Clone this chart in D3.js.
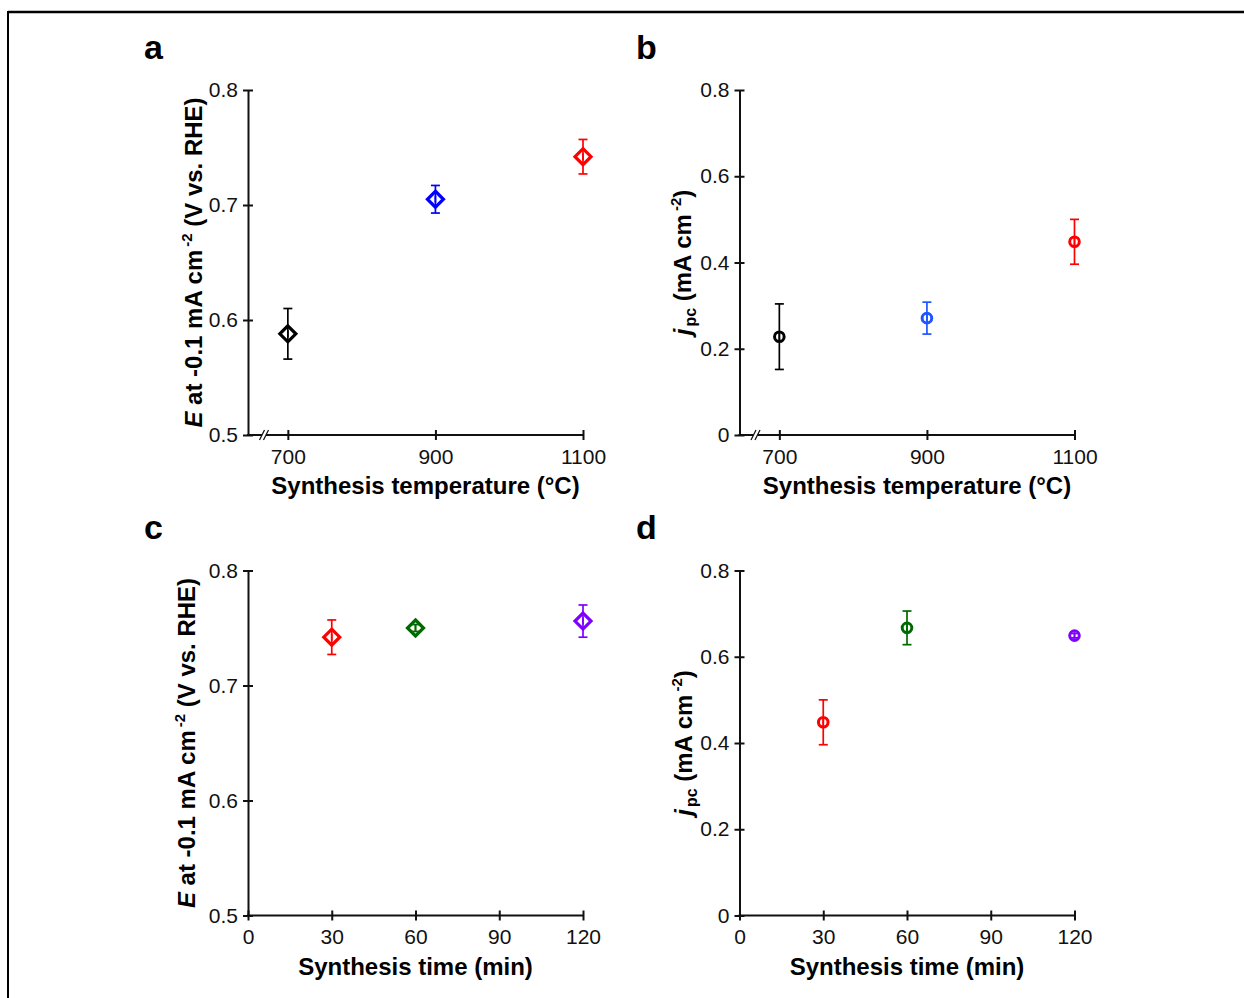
<!DOCTYPE html>
<html>
<head>
<meta charset="utf-8">
<script src="https://d3js.org/d3.v7.min.js"></script>
<style>
    body { margin: 0; background: #fff; }
    .axis path, .axis line { stroke: #111; stroke-width: 2px; }
    .axis text { font-family: "Liberation Sans", Arial, sans-serif; font-size: 21px; fill: #111; }
    .title { font-family: "Liberation Sans", Arial, sans-serif; font-size: 24px; font-weight: bold; fill: #000; }
    .letter { font-family: "Liberation Sans", Arial, sans-serif; font-size: 34px; font-weight: bold; fill: #000; }
</style>
</head>
<body>
<svg id="fig" width="1244" height="998"></svg>
<script>
// data
const tempCategories = [700, 900, 1100];
const timeCategories = [30, 60, 120];

const eTemp = [0.588, 0.705, 0.742];
const eTempErr = [0.022, 0.012, 0.015];
const jTemp = [0.228, 0.271, 0.448];
const jTempErr = [0.076, 0.037, 0.052];

const eTime = [0.742, 0.750, 0.756];
const eTimeErr = [0.015, 0.003, 0.014];
const jTime = [0.448, 0.667, 0.649];
const jTimeErr = [0.052, 0.039, 0.005];

const tempTicks = [700, 900, 1100];
const timeTicks = [0, 30, 60, 90, 120];
const eTicks = [0.5, 0.6, 0.7, 0.8];
const jTicks = [0, 0.2, 0.4, 0.6, 0.8];

const colorsA = ["#000000", "#0000ff", "#ff0000"];
const colorsB = ["#000000", "#1f55ff", "#ff0000"];
const colorsTime = ["#ff0000", "#006a00", "#7f00ff"];

const svg = d3.select("#fig");

// frame
svg.append("line").attr("x1", 8).attr("x2", 1244).attr("y1", 12).attr("y2", 12)
    .attr("stroke", "#000").attr("stroke-width", 2.5);
svg.append("line").attr("x1", 8).attr("x2", 8).attr("y1", 11).attr("y2", 998)
    .attr("stroke", "#000").attr("stroke-width", 2);

const W = 335, H = 345;

function drawPanel(p) {
    const g = svg.append("g").attr("transform", `translate(${p.left},${p.top})`);
    const x = d3.scaleLinear().domain(p.xDomain).range([0, W]);
    const y = d3.scaleLinear().domain(p.yDomain).range([H, 0]);

    const yAxis = g.append("g").attr("class", "axis")
        .call(d3.axisLeft(y).tickValues(p.yTicks).tickSize(5).tickSizeOuter(0).tickPadding(5)
            .tickFormat(d => d === 0 ? "0" : d3.format(".1f")(d)));
    yAxis.selectAll(".tick line").attr("x1", 5);

    const xAxis = g.append("g").attr("class", "axis").attr("transform", `translate(0,${H})`)
        .call(d3.axisBottom(x).tickValues(p.xTicks).tickSize(5).tickSizeOuter(0).tickPadding(9)
            .tickFormat(d3.format("d")));
    xAxis.selectAll(".tick line").attr("y1", -5);
    xAxis.select(".domain").attr("d", `M${-1},0H${W}`);

    if (p.xBreak) {
        const bx = 16;
        g.append("rect").attr("x", bx - 2).attr("y", H - 3).attr("width", 4).attr("height", 6).attr("fill", "#fff");
        [bx - 2, bx + 2].forEach(cx => {
            g.append("line").attr("x1", cx - 2.5).attr("y1", H + 5).attr("x2", cx + 2.5).attr("y2", H - 5)
                .attr("stroke", "#111").attr("stroke-width", 1.3);
        });
    }

    const pts = p.cats.map((c, i) => ({ c: c, v: p.vals[i], e: p.errs[i], col: p.colors[i] }));

    // error bars
    const eb = g.selectAll("g.eb").data(pts).join("g").attr("class", "eb");
    eb.append("line")
        .attr("x1", d => x(d.c)).attr("x2", d => x(d.c))
        .attr("y1", d => y(d.v - d.e)).attr("y2", d => y(d.v + d.e))
        .attr("stroke", d => d.col).attr("stroke-width", 1.7);
    [-1, 1].forEach(s => {
        eb.append("line")
            .attr("x1", d => x(d.c) - 4.5).attr("x2", d => x(d.c) + 4.5)
            .attr("y1", d => y(d.v + s * d.e)).attr("y2", d => y(d.v + s * d.e))
            .attr("stroke", d => d.col).attr("stroke-width", 1.7);
    });
    // inner line through the hollow marker
    eb.append("line")
        .attr("x1", d => x(d.c)).attr("x2", d => x(d.c))
        .attr("y1", d => y(d.v) - 3.5).attr("y2", d => y(d.v) + 3.5)
        .attr("stroke", d => d.col).attr("stroke-width", 1.7);

    if (p.shape === "diamond") {
        g.selectAll("path.mk").data(pts).join("path").attr("class", "mk")
            .attr("d", d => {
                const cx = x(d.c), cy = y(d.v), r = 8;
                return `M${cx},${cy - r}L${cx + r},${cy}L${cx},${cy + r}L${cx - r},${cy}Z`;
            })
            .attr("fill", "none").attr("stroke", d => d.col).attr("stroke-width", 3.2);
    } else {
        g.selectAll("circle.mk").data(pts).join("circle").attr("class", "mk")
            .attr("cx", d => x(d.c)).attr("cy", d => y(d.v)).attr("r", 4.8)
            .attr("fill", "none").attr("stroke", d => d.col).attr("stroke-width", 3);
    }

    // x title
    g.append("text").attr("class", "title").attr("text-anchor", "middle")
        .attr("x", W / 2 + p.xTitleShift).attr("y", H + 59).text(p.xTitle);

    // y title
    const yt = g.append("text").attr("class", "title").attr("text-anchor", "middle")
        .attr("transform", `translate(${p.yTitleX},${H / 2}) rotate(-90)`);
    p.yTitle(yt);

    svg.append("text").attr("class", "letter").attr("x", p.letterX).attr("y", p.letterY).text(p.letter);
}

function eTitle(t) {
    t.append("tspan").attr("font-style", "italic").text("E");
    t.append("tspan").text(" at -0.1 mA cm");
    t.append("tspan").attr("font-size", "15px").attr("dy", -10).attr("dx", 3).text("-2");
    t.append("tspan").attr("dy", 10).text(" (V vs. RHE)");
}
function jTitle(t) {
    t.append("tspan").attr("font-style", "italic").text("j");
    t.append("tspan").attr("font-size", "16px").attr("dy", 5).attr("dx", 2).text("pc");
    t.append("tspan").attr("dy", -5).text(" (mA cm");
    t.append("tspan").attr("font-size", "15px").attr("dy", -10).attr("dx", 3).text("-2");
    t.append("tspan").attr("dy", 10).text(")");
}

drawPanel({ left: 248, top: 90, xDomain: [646, 1100], yDomain: [0.5, 0.8], xTicks: tempTicks, yTicks: eTicks,
    cats: tempCategories, vals: eTemp, errs: eTempErr, colors: colorsA, shape: "diamond", xBreak: true,
    xTitle: "Synthesis temperature (°C)", xTitleShift: 10, yTitle: eTitle, yTitleX: -46,
    letter: "a", letterX: 144, letterY: 59 });
drawPanel({ left: 739.5, top: 90, xDomain: [646, 1100], yDomain: [0, 0.8], xTicks: tempTicks, yTicks: jTicks,
    cats: tempCategories, vals: jTemp, errs: jTempErr, colors: colorsB, shape: "circle", xBreak: true,
    xTitle: "Synthesis temperature (°C)", xTitleShift: 10, yTitle: jTitle, yTitleX: -49,
    letter: "b", letterX: 636, letterY: 59 });
drawPanel({ left: 248, top: 570.5, xDomain: [0, 120], yDomain: [0.5, 0.8], xTicks: timeTicks, yTicks: eTicks,
    cats: timeCategories, vals: eTime, errs: eTimeErr, colors: colorsTime, shape: "diamond", xBreak: false,
    xTitle: "Synthesis time (min)", xTitleShift: 0, yTitle: eTitle, yTitleX: -53,
    letter: "c", letterX: 144, letterY: 539 });
drawPanel({ left: 739.5, top: 570.5, xDomain: [0, 120], yDomain: [0, 0.8], xTicks: timeTicks, yTicks: jTicks,
    cats: timeCategories, vals: jTime, errs: jTimeErr, colors: colorsTime, shape: "circle", xBreak: false,
    xTitle: "Synthesis time (min)", xTitleShift: 0, yTitle: jTitle, yTitleX: -48,
    letter: "d", letterX: 636, letterY: 539 });
</script>
</body>
</html>
